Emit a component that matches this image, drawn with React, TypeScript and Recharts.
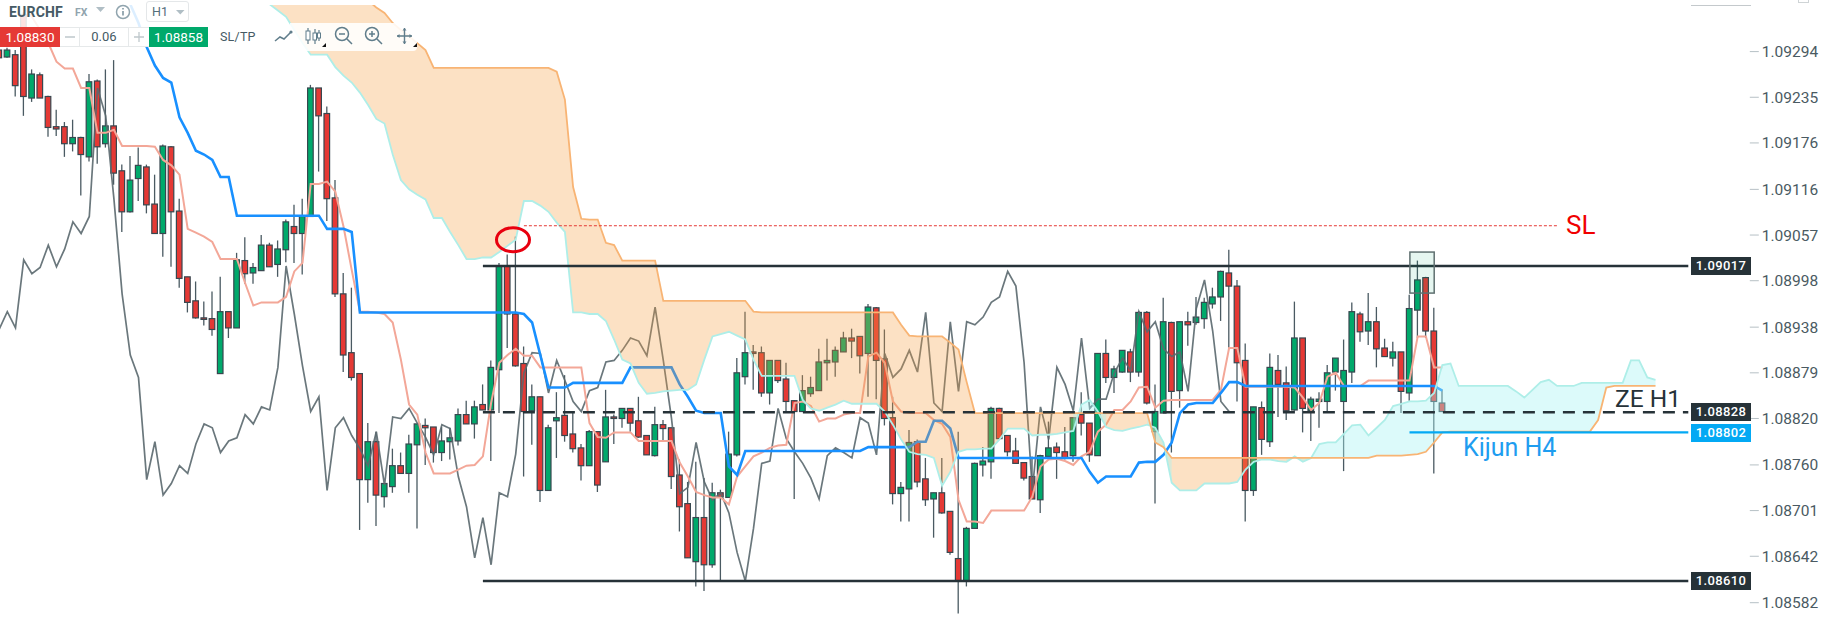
import { Area, Bar, ComposedChart, Line, ReferenceArea, ReferenceDot, ReferenceLine, XAxis, YAxis } from 'recharts';

// H1 candles, ten per row
const opens = [
  1.09296, 1.09287, 1.0929, 1.09342, 1.09234, 1.09264, 1.09236, 1.09197, 1.09197, 1.09175,
  1.09183, 1.09158, 1.09256, 1.09175, 1.09198, 1.0914, 1.09087, 1.0913, 1.09145, 1.09097,
  1.09059, 1.09171, 1.09088, 1.09003, 1.08972, 1.0895, 1.08949, 1.08878, 1.08958, 1.08937,
  1.09024, 1.09008, 1.09011, 1.09044, 1.09019, 1.09038, 1.09068, 1.09059, 1.09081, 1.09247,
  1.09214, 1.09105, 1.08981, 1.08905, 1.08878, 1.08741, 1.0879, 1.08719, 1.08732, 1.08759,
  1.08749, 1.08786, 1.08811, 1.08809, 1.08776, 1.0879, 1.08791, 1.08825, 1.08813, 1.08838,
  1.08831, 1.08883, 1.09017, 1.08955, 1.08891, 1.0883, 1.08848, 1.08727, 1.08817, 1.08824,
  1.088, 1.08782, 1.08759, 1.08803, 1.08764, 1.08822, 1.0882, 1.08833, 1.08817, 1.08798,
  1.08772, 1.08812, 1.08808, 1.08747, 1.0871, 1.08635, 1.08692, 1.08631, 1.08724, 1.08718,
  1.08773, 1.08874, 1.08906, 1.08905, 1.08853, 1.08895, 1.08871, 1.08843, 1.08829, 1.08852,
  1.08856, 1.08892, 1.08893, 1.08906, 1.08924, 1.08926, 1.08904, 1.08963, 1.08897, 1.08821,
  1.08723, 1.08729, 1.0879, 1.08742, 1.08716, 1.08724, 1.087, 1.08639, 1.0861, 1.08678,
  1.0876, 1.08764, 1.08833, 1.08798, 1.08778, 1.08763, 1.08745, 1.08715, 1.08771, 1.08783,
  1.08777, 1.08772, 1.08825, 1.08814, 1.08772, 1.08904, 1.08873, 1.0888, 1.08906, 1.0888,
  1.08957, 1.08803, 1.08827, 1.08944, 1.08856, 1.08945, 1.08944, 1.08949, 1.08968, 1.08977,
  1.09008, 1.08991, 1.08895, 1.08727, 1.08834, 1.0879, 1.08882, 1.08866, 1.08831, 1.08924,
  1.0883, 1.08842, 1.08842, 1.0888, 1.08842, 1.0888, 1.08955, 1.08933, 1.08945, 1.08911,
  1.08898, 1.08906, 1.08853, 1.0896, 1.09002, 1.08933, 1.0884,
];
const closes = [
  1.09286, 1.09296, 1.0925, 1.09236, 1.09265, 1.09234, 1.09196, 1.09194, 1.09175, 1.09183,
  1.09161, 1.09255, 1.09171, 1.09198, 1.09137, 1.09087, 1.09128, 1.09147, 1.09096, 1.09059,
  1.09172, 1.09087, 1.09001, 1.0897, 1.0895, 1.08948, 1.08935, 1.08958, 1.08937, 1.09025,
  1.09007, 1.09015, 1.09044, 1.09016, 1.09039, 1.09074, 1.09059, 1.09081, 1.09247, 1.09211,
  1.09104, 1.08981, 1.08902, 1.08873, 1.08741, 1.0879, 1.08721, 1.08736, 1.08759, 1.08749,
  1.08787, 1.08813, 1.08808, 1.08776, 1.08791, 1.08795, 1.08825, 1.08813, 1.08835, 1.08831,
  1.08886, 1.09017, 1.08955, 1.08888, 1.08829, 1.08848, 1.08727, 1.08808, 1.08821, 1.08798,
  1.08781, 1.08759, 1.08803, 1.08734, 1.08822, 1.0882, 1.08833, 1.08814, 1.08796, 1.08773,
  1.08812, 1.08807, 1.08745, 1.08706, 1.0864, 1.08692, 1.08631, 1.08724, 1.08719, 1.08774,
  1.08879, 1.08905, 1.08904, 1.08853, 1.08895, 1.08869, 1.08842, 1.08829, 1.08856, 1.0886,
  1.08893, 1.08895, 1.08908, 1.08924, 1.0892, 1.08901, 1.08964, 1.08895, 1.0882, 1.08723,
  1.08731, 1.08789, 1.08738, 1.08715, 1.08724, 1.08698, 1.08647, 1.0861, 1.08678, 1.08762,
  1.08765, 1.08833, 1.08794, 1.08777, 1.08762, 1.08743, 1.08716, 1.08772, 1.08782, 1.08776,
  1.08769, 1.08821, 1.08814, 1.08773, 1.08904, 1.08873, 1.08884, 1.08908, 1.0888, 1.08957,
  1.0884, 1.08829, 1.08945, 1.08855, 1.08945, 1.08941, 1.08951, 1.0897, 1.08977, 1.0901,
  1.08991, 1.08892, 1.08727, 1.08835, 1.08793, 1.08886, 1.08864, 1.0883, 1.08924, 1.08833,
  1.08845, 1.08845, 1.08879, 1.08898, 1.08882, 1.08958, 1.08932, 1.08945, 1.0891, 1.089,
  1.08906, 1.08855, 1.08962, 1.08999, 1.08933, 1.08842, 1.08829,
];
const highs = [
  1.09299, 1.09299, 1.09296, 1.09345, 1.09271, 1.09267, 1.09237, 1.09219, 1.09203, 1.09206,
  1.09184, 1.09265, 1.09258, 1.09271, 1.09283, 1.09148, 1.09159, 1.0917, 1.09148, 1.09135,
  1.09174, 1.09172, 1.09104, 1.09003, 1.08997, 1.08971, 1.08984, 1.09003, 1.08958, 1.09034,
  1.09054, 1.09021, 1.09057, 1.09047, 1.0905, 1.09077, 1.09096, 1.09104, 1.09251, 1.09247,
  1.09223, 1.09128, 1.09008, 1.08989, 1.08878, 1.08814, 1.08803, 1.08736, 1.08781, 1.08776,
  1.08799, 1.08813, 1.0882, 1.08809, 1.08809, 1.08808, 1.08833, 1.08843, 1.08843, 1.08864,
  1.08895, 1.09021, 1.09032, 1.09055, 1.08913, 1.08864, 1.08848, 1.08812, 1.08854, 1.08876,
  1.08827, 1.08787, 1.08805, 1.08803, 1.08857, 1.08825, 1.08833, 1.08833, 1.08848, 1.08798,
  1.08835, 1.08818, 1.08808, 1.08767, 1.08738, 1.08764, 1.08743, 1.08737, 1.08728, 1.08803,
  1.08898, 1.08958, 1.08915, 1.08913, 1.08895, 1.08895, 1.08892, 1.08844, 1.08876, 1.08874,
  1.0891, 1.08923, 1.08913, 1.08932, 1.08936, 1.08926, 1.08968, 1.08964, 1.08935, 1.08848,
  1.08738, 1.08805, 1.08793, 1.08769, 1.08724, 1.08769, 1.08699, 1.08803, 1.0868, 1.08763,
  1.08783, 1.08835, 1.08834, 1.08798, 1.08795, 1.08763, 1.08771, 1.08773, 1.08816, 1.08789,
  1.08809, 1.08821, 1.08854, 1.08814, 1.08904, 1.08922, 1.08888, 1.08908, 1.0891, 1.08959,
  1.08959, 1.08864, 1.08976, 1.08945, 1.08945, 1.08958, 1.08977, 1.08976, 1.08989, 1.09011,
  1.09038, 1.08999, 1.08917, 1.08835, 1.08842, 1.08904, 1.08902, 1.08887, 1.08971, 1.08924,
  1.08848, 1.08854, 1.08889, 1.08898, 1.08922, 1.0897, 1.08958, 1.08982, 1.08964, 1.08923,
  1.08919, 1.08906, 1.0898, 1.09024, 1.09003, 1.08963, 1.08857,
];
const lows = [
  1.09283, 1.09286, 1.09236, 1.09211, 1.09229, 1.09234, 1.09184, 1.09185, 1.09158, 1.09165,
  1.09108, 1.09152, 1.09149, 1.0917, 1.09122, 1.09061, 1.09086, 1.09101, 1.09085, 1.09059,
  1.09029, 1.09016, 1.08989, 1.08957, 1.08949, 1.0894, 1.08927, 1.08878, 1.08924, 1.08937,
  1.08994, 1.08994, 1.09011, 1.09016, 1.09003, 1.09022, 1.09021, 1.09006, 1.09081, 1.09139,
  1.09075, 1.08977, 1.0888, 1.08869, 1.08676, 1.08711, 1.08681, 1.08705, 1.08724, 1.08749,
  1.08724, 1.08678, 1.0876, 1.08763, 1.08765, 1.08767, 1.08785, 1.08813, 1.08794, 1.08831,
  1.08765, 1.08827, 1.08911, 1.08887, 1.08745, 1.08786, 1.08712, 1.08727, 1.08769, 1.0879,
  1.08776, 1.0874, 1.08759, 1.08725, 1.08764, 1.08787, 1.08808, 1.08803, 1.08795, 1.08773,
  1.08771, 1.08791, 1.08729, 1.08674, 1.0864, 1.08603, 1.08597, 1.08627, 1.0861, 1.08718,
  1.08771, 1.08864, 1.08857, 1.08848, 1.08838, 1.08866, 1.08829, 1.08716, 1.08829, 1.08848,
  1.08856, 1.08869, 1.08874, 1.08906, 1.08898, 1.08878, 1.08848, 1.08845, 1.08811, 1.08709,
  1.08687, 1.08687, 1.08731, 1.08707, 1.08666, 1.08697, 1.08644, 1.08568, 1.08603, 1.08678,
  1.08745, 1.08742, 1.08794, 1.08771, 1.08762, 1.0874, 1.08716, 1.08698, 1.08771, 1.08742,
  1.08767, 1.08764, 1.08798, 1.08764, 1.08772, 1.08866, 1.08853, 1.08879, 1.08867, 1.08874,
  1.08838, 1.0871, 1.08827, 1.08776, 1.08834, 1.08914, 1.08941, 1.08936, 1.08962, 1.08946,
  1.08911, 1.08842, 1.08687, 1.0872, 1.08773, 1.08783, 1.08822, 1.08818, 1.0883, 1.08802,
  1.08791, 1.08808, 1.08827, 1.08856, 1.08752, 1.08866, 1.08919, 1.08915, 1.08886, 1.089,
  1.08887, 1.08827, 1.08843, 1.08924, 1.08924, 1.08749, 1.08829,
];

const tenkan = [
  null, null, null, 1.09351, 1.09339, 1.09322, 1.09305, 1.09281, 1.09272, 1.09272,
  1.09247, 1.09247, 1.09189, 1.09189, 1.09193, 1.09172, 1.09172, 1.09172, 1.09172, 1.09171,
  1.09154, 1.09147, 1.09135, 1.09065, 1.0906, 1.09055, 1.09048, 1.09026, 1.09026, 1.09026,
  1.08995, 1.08966, 1.0897, 1.0897, 1.0897, 1.08977, 1.0901, 1.09021, 1.09123, 1.09123,
  1.09126, 1.09113, 1.09068, 1.09012, 1.08958, 1.08958, 1.08957, 1.08955, 1.08944, 1.08896,
  1.08838, 1.08825, 1.08776, 1.08749, 1.08749, 1.08749, 1.08754, 1.08759, 1.0876, 1.08771,
  1.0884, 1.08892, 1.08902, 1.0891, 1.08901, 1.08901, 1.08886, 1.08886, 1.08886, 1.08886,
  1.08886, 1.08886, 1.08814, 1.08796, 1.08795, 1.08802, 1.08802, 1.08802, 1.08791, 1.08791,
  1.08791, 1.08791, 1.08791, 1.08763, 1.08745, 1.08725, 1.08721, 1.08718, 1.08718, 1.08709,
  1.08745, 1.08758, 1.08771, 1.08776, 1.08782, 1.08785, 1.08786, 1.0884, 1.08842, 1.08836,
  1.08816, 1.0882, 1.0882, 1.08825, 1.08827, 1.08827, 1.089, 1.08905, 1.08892, 1.08842,
  1.08829, 1.08827, 1.08827, 1.08827, 1.08818, 1.08813, 1.08796, 1.08715, 1.08687, 1.08687,
  1.08685, 1.08701, 1.08701, 1.08701, 1.08701, 1.08701, 1.08719, 1.08758, 1.08767, 1.08768,
  1.08765, 1.0876, 1.08771, 1.08777, 1.08803, 1.08812, 1.08831, 1.08831, 1.08842, 1.0886,
  1.08861, 1.08834, 1.08843, 1.08844, 1.08844, 1.08844, 1.08844, 1.08844, 1.08844, 1.08857,
  1.08911, 1.08911, 1.08861, 1.08861, 1.08861, 1.08861, 1.08861, 1.08861, 1.0886, 1.08847,
  1.08831, 1.0884, 1.08874, 1.08879, 1.08862, 1.08862, 1.08862, 1.08869, 1.08869, 1.08869,
  1.08869, 1.08869, 1.08869, 1.08926, 1.08926, 1.08886, 1.08886,
];
const kijun = [
  null, null, null, null, null, null, null, null, null, null,
  null, null, null, null, null, null, 1.09355, 1.09331, 1.093, 1.09276,
  1.0926, 1.09254, 1.09209, 1.09189, 1.09166, 1.09161, 1.09154, 1.09132, 1.09132, 1.09082,
  1.09082, 1.09082, 1.09082, 1.09082, 1.09082, 1.09082, 1.09082, 1.09082, 1.09082, 1.09082,
  1.09065, 1.09065, 1.09065, 1.09061, 1.08957, 1.08957, 1.08957, 1.08957, 1.08957, 1.08957,
  1.08957, 1.08957, 1.08957, 1.08957, 1.08957, 1.08957, 1.08957, 1.08957, 1.08957, 1.08957,
  1.08957, 1.08957, 1.08957, 1.08957, 1.08955, 1.08944, 1.08902, 1.0886, 1.0886, 1.0886,
  1.08866, 1.08866, 1.08866, 1.08866, 1.08866, 1.08866, 1.08866, 1.08886, 1.08886, 1.08886,
  1.08886, 1.08886, 1.08886, 1.08864, 1.08848, 1.0883, 1.08827, 1.08827, 1.08827, 1.08758,
  1.08747, 1.08778, 1.08778, 1.08778, 1.08778, 1.08778, 1.08778, 1.08778, 1.08778, 1.08778,
  1.08778, 1.08778, 1.08778, 1.08778, 1.08778, 1.08778, 1.08783, 1.08783, 1.08783, 1.08783,
  1.08783, 1.08783, 1.0879, 1.0879, 1.08817, 1.08817, 1.08807, 1.08769, 1.08769, 1.08769,
  1.08769, 1.08769, 1.08769, 1.08769, 1.08769, 1.08769, 1.08769, 1.08769, 1.08769, 1.08769,
  1.08769, 1.08769, 1.08769, 1.08751, 1.08737, 1.08745, 1.08745, 1.08745, 1.08745, 1.08763,
  1.08764, 1.08764, 1.08773, 1.08789, 1.08827, 1.08838, 1.0884, 1.0884, 1.0884, 1.08853,
  1.08867, 1.08867, 1.08862, 1.08862, 1.08862, 1.08862, 1.08862, 1.08862, 1.08862, 1.08862,
  1.08862, 1.08862, 1.08862, 1.08862, 1.08862, 1.08862, 1.08862, 1.08862, 1.08862, 1.08862,
  1.08862, 1.08862, 1.08862, 1.08862, 1.08862, 1.08862, 1.08856,
];
const chikou = [
  1.08935, 1.08958, 1.08937, 1.09025, 1.09007, 1.09015, 1.09044, 1.09016, 1.09039, 1.09074,
  1.09059, 1.09081, 1.09247, 1.09211, 1.09104, 1.08981, 1.08902, 1.08873, 1.08741, 1.0879,
  1.08721, 1.08736, 1.08759, 1.08749, 1.08787, 1.08813, 1.08808, 1.08776, 1.08791, 1.08795,
  1.08825, 1.08813, 1.08835, 1.08831, 1.08886, 1.09017, 1.08955, 1.08888, 1.08829, 1.08848,
  1.08727, 1.08808, 1.08821, 1.08798, 1.08781, 1.08759, 1.08803, 1.08734, 1.08822, 1.0882,
  1.08833, 1.08814, 1.08796, 1.08773, 1.08812, 1.08807, 1.08745, 1.08706, 1.0864, 1.08692,
  1.08631, 1.08724, 1.08719, 1.08774, 1.08879, 1.08905, 1.08904, 1.08853, 1.08895, 1.08869,
  1.08842, 1.08829, 1.08856, 1.0886, 1.08893, 1.08895, 1.08908, 1.08924, 1.0892, 1.08901,
  1.08964, 1.08895, 1.0882, 1.08723, 1.08731, 1.08789, 1.08738, 1.08715, 1.08724, 1.08698,
  1.08647, 1.0861, 1.08678, 1.08762, 1.08765, 1.08833, 1.08794, 1.08777, 1.08762, 1.08743,
  1.08716, 1.08772, 1.08782, 1.08776, 1.08769, 1.08821, 1.08814, 1.08773, 1.08904, 1.08873,
  1.08884, 1.08908, 1.0888, 1.08957, 1.0884, 1.08829, 1.08945, 1.08855, 1.08945, 1.08941,
  1.08951, 1.0897, 1.08977, 1.0901, 1.08991, 1.08892, 1.08727, 1.08835, 1.08793, 1.08886,
  1.08864, 1.0883, 1.08924, 1.08833, 1.08845, 1.08845, 1.08879, 1.08898, 1.08882, 1.08958,
  1.08932, 1.08945, 1.0891, 1.089, 1.08906, 1.08855, 1.08962, 1.08999, 1.08933, 1.08842,
  1.08829,
];

// cloud edges, both starting at bar 33
const cloudStart = 33;
const spanA = [
  1.09355, 1.09347, 1.09339, 1.09322, 1.09305, 1.0929, 1.0929, 1.0929, 1.09274, 1.09263,
  1.09254, 1.09241, 1.09225, 1.09207, 1.09201, 1.09161, 1.09128, 1.09116, 1.09109, 1.09103,
  1.09079, 1.09079, 1.09061, 1.09044, 1.09026, 1.09026, 1.09028, 1.09028, 1.09035, 1.09043,
  1.09051, 1.09101, 1.09101, 1.09095, 1.09087, 1.09073, 1.09061, 1.08957, 1.08957, 1.08955,
  1.08955, 1.08946, 1.08922, 1.08896, 1.08891, 1.08866, 1.08852, 1.08853, 1.08855, 1.08856,
  1.08857, 1.08857, 1.08864, 1.08896, 1.08926, 1.08929, 1.08932, 1.08927, 1.08922, 1.08896,
  1.08875, 1.08875, 1.08875, 1.08875, 1.08875, 1.08844, 1.08833, 1.0883, 1.08834, 1.08838,
  1.08843, 1.08839, 1.08839, 1.08839, 1.08839, 1.08829, 1.08812, 1.08793, 1.08777, 1.08774,
  1.08773, 1.08769, 1.08733, 1.08751, 1.08777, 1.0878, 1.0878, 1.08781, 1.08781, 1.08793,
  1.08807, 1.08807, 1.08807, 1.08798, 1.08799, 1.08799, 1.088, 1.08802, 1.08804, 1.08838,
  1.08844, 1.08829, 1.08809, 1.08805, 1.08804, 1.08807, 1.08809, 1.08812, 1.08808, 1.08789,
  1.08737, 1.08727, 1.08727, 1.08727, 1.08736, 1.08736, 1.08736, 1.08736, 1.08738, 1.08754,
  1.08764, 1.08767, 1.08767, 1.08765, 1.08764, 1.08771, 1.08764, 1.08769, 1.08787, 1.08789,
  1.08789, 1.088, 1.08811, 1.08812, 1.08798, 1.08808, 1.08818, 1.08836, 1.08839, 1.08842,
  1.08842, 1.08843, 1.08853, 1.08889, 1.08891, 1.08862, 1.08862, 1.08862, 1.08862, 1.08862,
  1.08862, 1.08862, 1.08855, 1.08847, 1.08857, 1.08867, 1.0887, 1.08862, 1.08862, 1.08862,
  1.08866, 1.08866, 1.08866, 1.08866, 1.08866, 1.08866, 1.08895, 1.08895, 1.08873, 1.0887,
];
const spanB = [
  1.09485, 1.09475, 1.09464, 1.09454, 1.09444, 1.09433, 1.09423, 1.09413, 1.09402, 1.09392,
  1.09382, 1.09371, 1.0936, 1.09351, 1.09344, 1.09331, 1.09322, 1.09314, 1.09305, 1.09296,
  1.09273, 1.09273, 1.09273, 1.09273, 1.09273, 1.09273, 1.09273, 1.09273, 1.09273, 1.09273,
  1.09273, 1.09273, 1.09273, 1.09273, 1.09273, 1.09268, 1.09232, 1.09119, 1.09078, 1.09077,
  1.09077, 1.09047, 1.09044, 1.09024, 1.09024, 1.09024, 1.09024, 1.09024, 1.08972, 1.08972,
  1.08972, 1.08972, 1.08972, 1.08972, 1.08972, 1.08972, 1.08972, 1.08972, 1.08972, 1.08958,
  1.08957, 1.08957, 1.08957, 1.08957, 1.08957, 1.08957, 1.08957, 1.08957, 1.08957, 1.08957,
  1.08957, 1.08957, 1.08957, 1.08957, 1.08957, 1.08957, 1.08957, 1.08941, 1.08927, 1.08926,
  1.08926, 1.08926, 1.08926, 1.08918, 1.08909, 1.08867, 1.08827, 1.08827, 1.08827, 1.08827,
  1.08827, 1.08827, 1.08827, 1.08827, 1.08827, 1.08827, 1.08827, 1.08827, 1.08827, 1.08827,
  1.08827, 1.08827, 1.08827, 1.08827, 1.08827, 1.08827, 1.08827, 1.08827, 1.08789, 1.08783,
  1.08769, 1.08769, 1.08769, 1.08769, 1.08769, 1.08769, 1.08769, 1.08769, 1.08769, 1.08769,
  1.08769, 1.08769, 1.08769, 1.08769, 1.08769, 1.08769, 1.08769, 1.08769, 1.08769, 1.08769,
  1.08769, 1.08769, 1.08769, 1.08769, 1.08769, 1.08772, 1.08772, 1.08772, 1.08772, 1.08773,
  1.08774, 1.08777, 1.08789, 1.08802, 1.08803, 1.08803, 1.08803, 1.08803, 1.08803, 1.08803,
  1.08803, 1.08803, 1.08803, 1.08803, 1.08803, 1.08803, 1.08803, 1.08803, 1.08803, 1.08803,
  1.08803, 1.08803, 1.08818, 1.0886, 1.08862, 1.08862, 1.08862, 1.08862, 1.08862, 1.08862,
];

const priceTicks = [
  1.09294, 1.09235, 1.09176, 1.09116, 1.09057, 1.08998, 1.08938, 1.08879, 1.0882, 1.0876, 1.08701, 1.08642, 1.08582,
];

const resistance = 1.09017;
const support = 1.0861;
const zeH1 = 1.08828;
const kijunH4 = 1.08802;
const stopLoss = 1.09069;

const SLOTS = 214;
const RED = '#e53935';
const GREEN = '#00a96b';
const DARK = '#263238';
const SKY = '#03a9f4';

const inCloud = (i: number) => i >= cloudStart && i - cloudStart < spanA.length;
const isOrange = (i: number) => inCloud(i) && spanB[i - cloudStart] > spanA[i - cloudStart];
const isTeal = (i: number) => inCloud(i) && spanB[i - cloudStart] <= spanA[i - cloudStart];

const rows = Array.from({ length: SLOTS }, (_, i) => {
  const a = inCloud(i) ? spanA[i - cloudStart] : null;
  const b = inCloud(i) ? spanB[i - cloudStart] : null;
  return {
    idx: i,
    range: i < opens.length ? [lows[i], highs[i]] : null,
    open: opens[i],
    close: closes[i],
    tenkan: tenkan[i] ?? null,
    kijun: kijun[i] ?? null,
    chikou: chikou[i] ?? null,
    spanA: a,
    spanB: b,
    orange: isOrange(i) || isOrange(i - 1) || isOrange(i + 1) ? [a, b] : null,
    teal: isTeal(i) || isTeal(i - 1) || isTeal(i + 1) ? [a, b] : null,
  };
});

const Candle = (props: any) => {
  const { x, y, width, height, payload } = props;
  if (!payload || !payload.range) return null;
  const [low, high] = payload.range;
  const k = height / (high - low);
  const yOpen = y + (high - payload.open) * k;
  const yClose = y + (high - payload.close) * k;
  const top = Math.min(yOpen, yClose);
  const h = Math.max(Math.abs(yClose - yOpen), 1);
  const up = payload.close >= payload.open;
  const cx = x + width / 2;
  return (
    <g>
      <line x1={cx} x2={cx} y1={y} y2={y + height} stroke="#4a5a62" strokeWidth={1.3} />
      <rect x={x} y={top} width={width} height={h} fill={up ? GREEN : RED} stroke="#37474f" strokeWidth={1.2} />
    </g>
  );
};

const priceBox = (y: number, text: string, bg: string) => (
  <div
    key={text}
    style={{
      position: 'absolute', left: 1691, top: y - 9, width: 60, height: 18, background: bg, color: '#fff',
      font: '500 13px Roboto', letterSpacing: 0.4, lineHeight: '18px', textAlign: 'center',
    }}
  >
    {text}
  </div>
);

const label = (text: string, left: number, top: number, color: string, size: number) => (
  <div key={text} style={{ position: 'absolute', left, top, color, font: `400 ${size}px Roboto`, lineHeight: 1, whiteSpace: 'nowrap' }}>
    {text}
  </div>
);

const gray = '#607d8b';

const Toolbar = () => (
  <>
    <div style={{ position: 'absolute', left: 0, top: 0, width: 265, height: 27, background: 'rgba(255,255,255,0.85)' }} />
    <div style={{ position: 'absolute', left: 290, top: 23, width: 127, height: 28, background: 'rgba(255,255,255,0.88)', borderBottomRightRadius: 4 }} />
    <div style={{ position: 'absolute', left: 9, top: 4, color: '#455a64', font: '700 14px Roboto', letterSpacing: 0.2 }}>EURCHF</div>
    <div style={{ position: 'absolute', left: 75, top: 6, color: '#90a4ae', font: '700 10.5px Roboto' }}>FX</div>
    <svg width="1823" height="60" style={{ position: 'absolute', left: 0, top: 0 }}>
      <path d="M96 7h9l-4.5 5z" fill="#b0bec5" />
      <circle cx="123" cy="12" r="6.5" fill="none" stroke="#90a4ae" strokeWidth="1.5" />
      <path d="M123 11v4.5M123 8v1.5" stroke="#78909c" strokeWidth="1.5" />
      <path d="M176 10h8.5l-4.2 4.5z" fill="#b0bec5" />
      <path d="M275 41l5-4 4 2 7-7" fill="none" stroke={gray} strokeWidth="1.5" />
      <circle cx="291" cy="32" r="1.6" fill={gray} />
      <path d="M308 28v16M315 29v15M319 30v11" stroke={gray} strokeWidth="1.2" />
      <rect x="306" y="31" width="4" height="9" fill="#fff" stroke={gray} />
      <rect x="313" y="33" width="3.5" height="7" fill="#fff" stroke={gray} />
      <rect x="317.5" y="33" width="3" height="5" fill="#fff" stroke={gray} />
      <path d="M322 47l4-4v4z M413 47l4-4v4z" fill="#111" />
      <circle cx="342" cy="34" r="6.5" fill="none" stroke={gray} strokeWidth="1.5" />
      <path d="M347 39l5 5M339 34h6" stroke={gray} strokeWidth="1.5" />
      <circle cx="372" cy="34" r="6.5" fill="none" stroke={gray} strokeWidth="1.5" />
      <path d="M377 39l5 5M369 34h6M372 31v6" stroke={gray} strokeWidth="1.5" />
      <path d="M404.5 28v16M397 36h15" stroke={gray} strokeWidth="1.4" />
      <path d="M402.5 30.5l2-2.5 2 2.5zM402.5 41.5l2 2.5 2-2.5zM399.5 34l-2.5 2 2.5 2zM409.5 34l2.5 2-2.5 2z" fill={gray} />
    </svg>
    <div style={{ position: 'absolute', left: 146, top: 1, width: 43, height: 21, border: '1px solid #e4e7e9', borderRadius: 3, boxSizing: 'border-box' }} />
    <div style={{ position: 'absolute', left: 152, top: 4, color: '#546e7a', font: '400 12.5px Roboto' }}>H1</div>
    <div style={{ position: 'absolute', left: 0, top: 27, width: 60, height: 20, background: RED, color: '#fff', font: '400 13.5px Roboto', lineHeight: '20px', textAlign: 'center' }}>1.08830</div>
    <div style={{ position: 'absolute', left: 60, top: 27, width: 89, height: 20, boxSizing: 'border-box', background: '#fff', border: '1px solid #e6e9ea', borderLeft: 0, borderRight: 0 }} />
    <div style={{ position: 'absolute', left: 79, top: 27, width: 50, height: 20, boxSizing: 'border-box', borderLeft: '1px solid #e6e9ea', borderRight: '1px solid #e6e9ea', color: '#455a64', font: '400 13px Roboto', lineHeight: '20px', textAlign: 'center' }}>0.06</div>
    <svg width="149" height="60" style={{ position: 'absolute', left: 0, top: 0 }}>
      <path d="M65 37h10M134 37h10M139 32v10" stroke="#bfc8cc" strokeWidth="1.3" />
    </svg>
    <div style={{ position: 'absolute', left: 149, top: 27, width: 59, height: 20, background: GREEN, color: '#fff', font: '400 13.5px Roboto', lineHeight: '20px', textAlign: 'center' }}>1.08858</div>
    <div style={{ position: 'absolute', left: 220, top: 27, color: '#455a64', font: '400 12.5px Roboto', lineHeight: '20px', letterSpacing: 0.2 }}>SL/TP</div>
  </>
);

export default function App() {
  return (
    <div style={{ position: 'absolute', left: 0, top: 0, width: 1823, height: 627, overflow: 'hidden', background: '#fff' }}>
      <div style={{ position: 'absolute', left: -5, top: 0 }}>
        <ComposedChart width={1828} height={627} data={rows} margin={{ top: 5, right: 0, bottom: 0, left: 0 }}>
          <XAxis dataKey="idx" hide />
          <YAxis
            orientation="right"
            width={73.2}
            domain={[1.085506, 1.093542]}
            allowDataOverflow
            ticks={priceTicks}
            interval={0}
            axisLine={false}
            tickSize={9}
            tickMargin={3}
            tickLine={{ stroke: '#b6c0c5' }}
            tick={{ fill: '#4a5a62', fontFamily: 'Roboto', fontSize: 15.5 }}
            tickFormatter={(v: number) => v.toFixed(5)}
          />
          <Bar dataKey="range" barSize={5.6} shape={Candle} isAnimationActive={false} zIndex={300} />
          <Line dataKey="chikou" stroke="#5a686e" strokeWidth={1.7} strokeOpacity={0.9} dot={false} activeDot={false} isAnimationActive={false} zIndex={310} />
          <Line dataKey="tenkan" stroke="#f3a798" strokeWidth={2} dot={false} activeDot={false} isAnimationActive={false} zIndex={320} />
          <Line dataKey="kijun" stroke="#1890ff" strokeWidth={2.6} dot={false} activeDot={false} isAnimationActive={false} zIndex={330} />
          <Area dataKey="orange" stroke="none" fill="#f59a3c" fillOpacity={0.3} dot={false} activeDot={false} isAnimationActive={false} zIndex={340} />
          <Area dataKey="teal" stroke="none" fill="#a7f2f2" fillOpacity={0.4} dot={false} activeDot={false} isAnimationActive={false} zIndex={340} />
          <Line dataKey="spanA" stroke="#aeeee8" strokeWidth={1.8} dot={false} activeDot={false} isAnimationActive={false} zIndex={350} />
          <Line dataKey="spanB" stroke="#f8b474" strokeWidth={1.8} dot={false} activeDot={false} isAnimationActive={false} zIndex={350} />
          <ReferenceLine isFront zIndex={360} stroke={DARK} strokeWidth={2.4} segment={[{ x: 59, y: resistance }, { x: 206, y: resistance }]} />
          <ReferenceLine isFront zIndex={360} stroke={DARK} strokeWidth={2.4} segment={[{ x: 59, y: support }, { x: 206, y: support }]} />
          <ReferenceLine isFront zIndex={360} stroke={DARK} strokeWidth={2.4} strokeDasharray="12 8" segment={[{ x: 59, y: zeH1 }, { x: 206, y: zeH1 }]} />
          <ReferenceLine isFront zIndex={360} stroke={SKY} strokeWidth={2.4} segment={[{ x: 172, y: kijunH4 }, { x: 206, y: kijunH4 }]} />
          <ReferenceLine isFront zIndex={360} stroke={RED} strokeWidth={1} strokeDasharray="3 2" segment={[{ x: 64, y: stopLoss }, { x: 190, y: stopLoss }]} />
          <ReferenceArea
            isFront
            zIndex={360}
            x1={172}
            x2={175}
            y1={1.08982}
            y2={1.09035}
            shape={(p: any) => (
              <rect x={p.x + 4.5} y={p.y} width={p.width - 8.5} height={p.height} fill="#00a96b" fillOpacity={0.1} stroke="#5f7070" strokeWidth={1.5} />
            )}
          />
          <ReferenceDot
            isFront
            zIndex={370}
            x={63}
            y={1.09051}
            shape={(p: any) => <ellipse cx={p.cx - 2.7} cy={p.cy} rx={16.5} ry={12} fill="none" stroke="#e8000f" strokeWidth={3} />}
          />
        </ComposedChart>
      </div>
      <Toolbar />
      {priceBox(266, '1.09017', DARK)}
      {priceBox(412, '1.08828', DARK)}
      {priceBox(432.5, '1.08802', SKY)}
      {priceBox(581, '1.08610', DARK)}
      <div style={{ position: 'absolute', left: 1691, top: 5, width: 60, height: 1, background: '#c4c9cc' }} />
      <div style={{ position: 'absolute', left: 1798, top: -8, width: 9, height: 9, border: '1px solid #cfd4d6' }} />
      {label('SL', 1566, 212, '#f00000', 26)}
      {label('ZE H1', 1615, 387, DARK, 24.5)}
      {label('Kijun H4', 1463, 435, '#1e9df0', 25)}
    </div>
  );
}
